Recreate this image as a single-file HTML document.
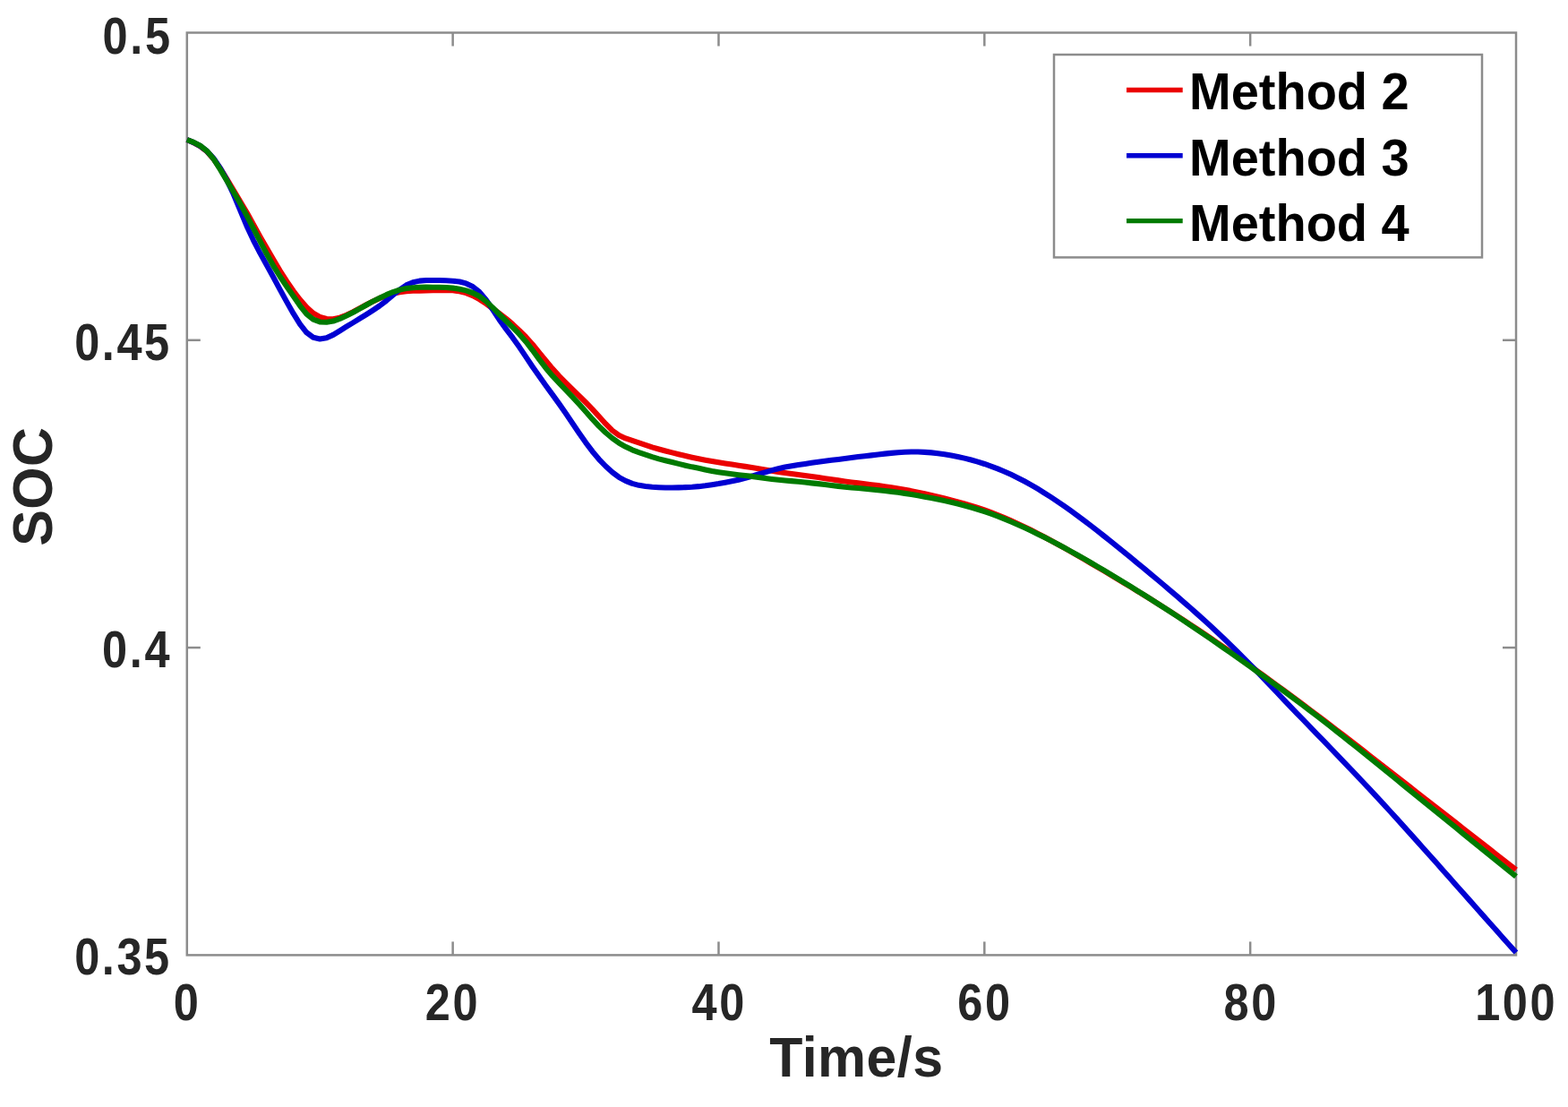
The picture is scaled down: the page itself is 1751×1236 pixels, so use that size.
<!DOCTYPE html>
<html><head><meta charset="utf-8"><style>
html,body{margin:0;padding:0;background:#fff;}
svg{display:block;}
text{font-family:"Liberation Sans",Arial,sans-serif;font-weight:bold;fill:#262626;}
text.lg{fill:#000;}
</style></head><body>
<svg width="1751" height="1236" viewBox="0 0 1751 1236">
<rect x="0" y="0" width="1751" height="1236" fill="#fff"/>
<g stroke="#8c8c8c" stroke-width="2.5" fill="none">
<rect x="208.80" y="36.50" width="1484.20" height="1029.90"/>
<line x1="505.64" y1="1066.40" x2="505.64" y2="1051.40"/><line x1="505.64" y1="36.50" x2="505.64" y2="51.50"/><line x1="802.48" y1="1066.40" x2="802.48" y2="1051.40"/><line x1="802.48" y1="36.50" x2="802.48" y2="51.50"/><line x1="1099.32" y1="1066.40" x2="1099.32" y2="1051.40"/><line x1="1099.32" y1="36.50" x2="1099.32" y2="51.50"/><line x1="1396.16" y1="1066.40" x2="1396.16" y2="1051.40"/><line x1="1396.16" y1="36.50" x2="1396.16" y2="51.50"/><line x1="208.80" y1="379.80" x2="223.80" y2="379.80"/><line x1="1693.00" y1="379.80" x2="1678.00" y2="379.80"/><line x1="208.80" y1="723.10" x2="223.80" y2="723.10"/><line x1="1693.00" y1="723.10" x2="1678.00" y2="723.10"/>
</g>
<g fill="none" stroke-width="6.1" stroke-linejoin="round" stroke-linecap="butt">
<path d="M208.80,156.00 L216.22,159.22 L223.64,163.28 L231.06,169.15 L238.48,177.40 L245.91,187.96 L253.33,199.91 L260.75,212.29 L268.17,224.71 L275.59,237.34 L283.01,250.80 L290.43,264.12 L297.85,277.05 L305.27,289.84 L312.69,302.40 L320.12,313.89 L327.54,324.79 L334.96,334.58 L342.38,343.08 L349.80,349.76 L357.22,353.90 L364.64,356.03 L372.06,356.18 L379.48,354.61 L386.90,351.74 L394.33,348.19 L401.75,344.28 L409.17,340.27 L416.59,336.40 L424.01,332.96 L431.43,330.06 L438.85,327.77 L446.27,326.15 L453.69,325.22 L461.11,324.78 L468.54,324.58 L475.96,324.41 L483.38,324.21 L490.80,324.09 L498.22,324.02 L505.64,324.32 L513.06,325.30 L520.48,327.16 L527.90,330.07 L535.32,334.12 L542.75,339.02 L550.17,344.42 L557.59,349.96 L565.01,355.66 L572.43,361.94 L579.85,368.87 L587.27,376.28 L594.69,384.50 L602.11,393.58 L609.53,402.76 L616.96,411.64 L624.38,419.80 L631.80,427.43 L639.22,434.75 L646.64,441.97 L654.06,449.28 L661.48,456.90 L668.90,465.03 L676.32,473.19 L683.74,480.63 L691.16,486.02 L698.59,489.41 L706.01,491.93 L713.43,494.31 L720.85,496.82 L728.27,499.38 L735.69,501.52 L743.11,503.49 L750.53,505.39 L757.95,507.24 L765.38,509.04 L772.80,510.76 L780.22,512.35 L787.64,513.81 L795.06,515.11 L802.48,516.29 L809.90,517.42 L817.32,518.54 L824.74,519.69 L832.16,520.87 L839.59,522.08 L847.01,523.31 L854.43,524.54 L861.85,525.73 L869.27,526.86 L876.69,527.94 L884.11,528.98 L891.53,530.01 L898.95,531.04 L906.37,532.06 L913.80,533.09 L921.22,534.17 L928.64,535.28 L936.06,536.38 L943.48,537.44 L950.90,538.43 L958.32,539.36 L965.74,540.27 L973.16,541.20 L980.58,542.15 L988.01,543.16 L995.43,544.25 L1002.85,545.43 L1010.27,546.73 L1017.69,548.14 L1025.11,549.66 L1032.53,551.26 L1039.95,552.95 L1047.37,554.70 L1054.79,556.51 L1062.22,558.40 L1069.64,560.37 L1077.06,562.45 L1084.48,564.64 L1091.90,566.98 L1099.32,569.47 L1106.74,572.15 L1114.16,575.01 L1121.58,578.07 L1129.00,581.29 L1136.42,584.68 L1143.85,588.20 L1151.27,591.86 L1158.69,595.64 L1166.11,599.52 L1173.53,603.51 L1180.95,607.57 L1188.37,611.71 L1195.79,615.90 L1203.21,620.14 L1210.63,624.43 L1218.06,628.74 L1225.48,633.09 L1232.90,637.47 L1240.32,641.88 L1247.74,646.31 L1255.16,650.77 L1262.58,655.26 L1270.00,659.78 L1277.42,664.33 L1284.85,668.92 L1292.27,673.55 L1299.69,678.23 L1307.11,682.95 L1314.53,687.72 L1321.95,692.55 L1329.37,697.43 L1336.79,702.36 L1344.21,707.35 L1351.63,712.39 L1359.06,717.49 L1366.48,722.63 L1373.90,727.81 L1381.32,733.04 L1388.74,738.30 L1396.16,743.60 L1403.58,748.93 L1411.00,754.28 L1418.42,759.67 L1425.84,765.09 L1433.27,770.53 L1440.69,775.99 L1448.11,781.49 L1455.53,787.01 L1462.95,792.57 L1470.37,798.15 L1477.79,803.77 L1485.21,809.42 L1492.63,815.09 L1500.05,820.79 L1507.47,826.52 L1514.90,832.26 L1522.32,838.01 L1529.74,843.79 L1537.16,849.57 L1544.58,855.35 L1552.00,861.14 L1559.42,866.93 L1566.84,872.72 L1574.26,878.51 L1581.68,884.30 L1589.11,890.08 L1596.53,895.86 L1603.95,901.64 L1611.37,907.42 L1618.79,913.20 L1626.21,918.99 L1633.63,924.78 L1641.05,930.57 L1648.47,936.36 L1655.89,942.16 L1663.32,947.97 L1670.74,953.78 L1678.16,959.59 L1685.58,965.41 L1693.00,971.22" stroke="#eb0000"/>
<path d="M208.80,156.00 L216.22,159.12 L223.64,163.03 L231.06,168.70 L238.48,176.84 L245.91,187.71 L253.33,201.08 L260.75,216.78 L268.17,234.47 L275.59,252.43 L283.01,268.33 L290.43,282.60 L297.85,295.98 L305.27,309.54 L312.69,323.39 L320.12,336.85 L327.54,349.95 L334.96,361.76 L342.38,371.26 L349.80,376.81 L357.22,378.51 L364.64,377.27 L372.06,373.89 L379.48,369.29 L386.90,364.71 L394.33,360.25 L401.75,355.71 L409.17,351.06 L416.59,346.31 L424.01,341.36 L431.43,335.73 L438.85,329.53 L446.27,323.47 L453.69,318.41 L461.11,315.19 L468.54,313.62 L475.96,313.06 L483.38,313.00 L490.80,313.07 L498.22,313.26 L505.64,313.68 L513.06,314.55 L520.48,316.39 L527.90,320.00 L535.32,325.99 L542.75,334.73 L550.17,345.54 L557.59,356.93 L565.01,367.14 L572.43,376.90 L579.85,387.35 L587.27,398.39 L594.69,409.51 L602.11,420.09 L609.53,430.43 L616.96,440.63 L624.38,450.90 L631.80,461.55 L639.22,472.49 L646.64,483.48 L654.06,494.08 L661.48,503.92 L668.90,512.78 L676.32,520.49 L683.74,527.30 L691.16,532.80 L698.59,536.95 L706.01,539.91 L713.43,541.83 L720.85,543.01 L728.27,543.76 L735.69,544.21 L743.11,544.50 L750.53,544.53 L757.95,544.39 L765.38,544.13 L772.80,543.73 L780.22,543.16 L787.64,542.30 L795.06,541.25 L802.48,540.06 L809.90,538.68 L817.32,537.28 L824.74,535.72 L832.16,533.88 L839.59,531.77 L847.01,529.52 L854.43,527.30 L861.85,525.19 L869.27,523.22 L876.69,521.57 L884.11,520.24 L891.53,519.04 L898.95,517.90 L906.37,516.82 L913.80,515.79 L921.22,514.80 L928.64,513.84 L936.06,512.95 L943.48,512.07 L950.90,511.08 L958.32,510.09 L965.74,509.20 L973.16,508.35 L980.58,507.49 L988.01,506.64 L995.43,505.88 L1002.85,505.22 L1010.27,504.75 L1017.69,504.52 L1025.11,504.55 L1032.53,504.84 L1039.95,505.38 L1047.37,506.17 L1054.79,507.20 L1062.22,508.45 L1069.64,509.92 L1077.06,511.61 L1084.48,513.51 L1091.90,515.63 L1099.32,517.97 L1106.74,520.56 L1114.16,523.39 L1121.58,526.48 L1129.00,529.82 L1136.42,533.43 L1143.85,537.29 L1151.27,541.40 L1158.69,545.74 L1166.11,550.28 L1173.53,555.02 L1180.95,559.95 L1188.37,565.05 L1195.79,570.30 L1203.21,575.70 L1210.63,581.23 L1218.06,586.88 L1225.48,592.64 L1232.90,598.48 L1240.32,604.39 L1247.74,610.36 L1255.16,616.37 L1262.58,622.43 L1270.00,628.52 L1277.42,634.65 L1284.85,640.82 L1292.27,647.02 L1299.69,653.27 L1307.11,659.56 L1314.53,665.91 L1321.95,672.32 L1329.37,678.81 L1336.79,685.38 L1344.21,692.05 L1351.63,698.83 L1359.06,705.73 L1366.48,712.76 L1373.90,719.92 L1381.32,727.20 L1388.74,734.59 L1396.16,742.10 L1403.58,749.72 L1411.00,757.42 L1418.42,765.19 L1425.84,772.98 L1433.27,780.77 L1440.69,788.54 L1448.11,796.28 L1455.53,803.98 L1462.95,811.66 L1470.37,819.33 L1477.79,826.99 L1485.21,834.67 L1492.63,842.36 L1500.05,850.08 L1507.47,857.85 L1514.90,865.65 L1522.32,873.50 L1529.74,881.41 L1537.16,889.38 L1544.58,897.41 L1552.00,905.50 L1559.42,913.66 L1566.84,921.86 L1574.26,930.09 L1581.68,938.36 L1589.11,946.66 L1596.53,954.98 L1603.95,963.32 L1611.37,971.68 L1618.79,980.04 L1626.21,988.40 L1633.63,996.77 L1641.05,1005.14 L1648.47,1013.50 L1655.89,1021.86 L1663.32,1030.22 L1670.74,1038.57 L1678.16,1046.91 L1685.58,1055.25 L1693.00,1063.59" stroke="#0000d2"/>
<path d="M208.80,156.00 L216.22,158.91 L223.64,162.71 L231.06,168.58 L238.48,177.37 L245.91,189.13 L253.33,201.71 L260.75,214.19 L268.17,227.09 L275.59,240.71 L283.01,255.07 L290.43,269.29 L297.85,283.57 L305.27,296.80 L312.69,308.74 L320.12,319.80 L327.54,330.57 L334.96,341.32 L342.38,350.69 L349.80,356.72 L357.22,359.45 L364.64,359.76 L372.06,358.51 L379.48,355.95 L386.90,352.54 L394.33,348.75 L401.75,344.63 L409.17,340.47 L416.59,336.40 L424.01,332.66 L431.43,329.18 L438.85,326.05 L446.27,323.64 L453.69,322.06 L461.11,321.21 L468.54,320.80 L475.96,320.67 L483.38,320.68 L490.80,320.78 L498.22,321.05 L505.64,321.61 L513.06,322.67 L520.48,324.40 L527.90,327.00 L535.32,330.79 L542.75,336.35 L550.17,343.38 L557.59,351.00 L565.01,358.19 L572.43,365.34 L579.85,372.93 L587.27,381.40 L594.69,391.03 L602.11,401.13 L609.53,410.95 L616.96,419.68 L624.38,427.66 L631.80,435.34 L639.22,443.16 L646.64,451.13 L654.06,459.43 L661.48,467.95 L668.90,475.85 L676.32,482.97 L683.74,489.30 L691.16,494.53 L698.59,498.78 L706.01,502.34 L713.43,505.14 L720.85,507.74 L728.27,510.19 L735.69,512.39 L743.11,514.31 L750.53,516.09 L757.95,517.87 L765.38,519.67 L772.80,521.35 L780.22,522.78 L787.64,524.40 L795.06,525.92 L802.48,527.15 L809.90,528.22 L817.32,529.24 L824.74,530.18 L832.16,531.00 L839.59,531.90 L847.01,533.00 L854.43,534.03 L861.85,534.92 L869.27,535.73 L876.69,536.46 L884.11,537.13 L891.53,537.83 L898.95,538.58 L906.37,539.35 L913.80,540.12 L921.22,540.96 L928.64,541.91 L936.06,542.87 L943.48,543.73 L950.90,544.45 L958.32,545.06 L965.74,545.72 L973.16,546.43 L980.58,547.19 L988.01,548.00 L995.43,548.86 L1002.85,549.80 L1010.27,550.86 L1017.69,552.03 L1025.11,553.30 L1032.53,554.64 L1039.95,556.05 L1047.37,557.55 L1054.79,559.13 L1062.22,560.81 L1069.64,562.59 L1077.06,564.51 L1084.48,566.56 L1091.90,568.76 L1099.32,571.13 L1106.74,573.67 L1114.16,576.41 L1121.58,579.35 L1129.00,582.46 L1136.42,585.70 L1143.85,589.07 L1151.27,592.55 L1158.69,596.15 L1166.11,599.85 L1173.53,603.66 L1180.95,607.56 L1188.37,611.54 L1195.79,615.61 L1203.21,619.76 L1210.63,623.97 L1218.06,628.24 L1225.48,632.58 L1232.90,636.96 L1240.32,641.39 L1247.74,645.87 L1255.16,650.39 L1262.58,654.95 L1270.00,659.55 L1277.42,664.19 L1284.85,668.87 L1292.27,673.59 L1299.69,678.36 L1307.11,683.18 L1314.53,688.05 L1321.95,692.96 L1329.37,697.93 L1336.79,702.94 L1344.21,708.00 L1351.63,713.10 L1359.06,718.23 L1366.48,723.40 L1373.90,728.60 L1381.32,733.82 L1388.74,739.08 L1396.16,744.36 L1403.58,749.67 L1411.00,755.01 L1418.42,760.39 L1425.84,765.80 L1433.27,771.25 L1440.69,776.73 L1448.11,782.26 L1455.53,787.84 L1462.95,793.46 L1470.37,799.14 L1477.79,804.88 L1485.21,810.66 L1492.63,816.50 L1500.05,822.38 L1507.47,828.29 L1514.90,834.24 L1522.32,840.21 L1529.74,846.20 L1537.16,852.20 L1544.58,858.21 L1552.00,864.23 L1559.42,870.25 L1566.84,876.27 L1574.26,882.29 L1581.68,888.32 L1589.11,894.34 L1596.53,900.37 L1603.95,906.40 L1611.37,912.43 L1618.79,918.46 L1626.21,924.49 L1633.63,930.52 L1641.05,936.55 L1648.47,942.58 L1655.89,948.60 L1663.32,954.61 L1670.74,960.61 L1678.16,966.61 L1685.58,972.60 L1693.00,978.59" stroke="#007a00"/>
</g>
<g font-size="58">
<text transform="translate(193.85,1138.60) scale(0.87,1)" style="letter-spacing:3px">0</text><text transform="translate(474.85,1138.60) scale(0.87,1)" style="letter-spacing:3px">20</text><text transform="translate(772.60,1138.60) scale(0.87,1)" style="letter-spacing:3px">40</text><text transform="translate(1069.30,1138.60) scale(0.87,1)" style="letter-spacing:3px">60</text><text transform="translate(1366.60,1138.60) scale(0.87,1)" style="letter-spacing:3px">80</text><text transform="translate(1647.15,1138.60) scale(0.87,1)" style="letter-spacing:3px">100</text>
<text transform="translate(114.60,59.70) scale(0.87,1)" style="letter-spacing:3px">0.5</text><text transform="translate(83.15,401.85) scale(0.87,1)" style="letter-spacing:3px">0.45</text><text transform="translate(114.10,745.00) scale(0.87,1)" style="letter-spacing:3px">0.4</text><text transform="translate(83.15,1088.05) scale(0.87,1)" style="letter-spacing:3px">0.35</text>
</g>
<text transform="translate(956.35,1201.8) scale(0.965,1)" font-size="63" text-anchor="middle" style="letter-spacing:0.5px">Time/s</text>
<text transform="translate(58.4,543.15) rotate(-90) scale(0.965,1)" font-size="63" text-anchor="middle" style="letter-spacing:0.5px">SOC</text>
<g>
<rect x="1177" y="61" width="478" height="226.4" fill="#fff" stroke="#8c8c8c" stroke-width="2.5"/>
<line x1="1258" y1="100.5" x2="1320.7" y2="100.5" stroke="#eb0000" stroke-width="5.4"/>
<line x1="1258" y1="173.8" x2="1320.7" y2="173.8" stroke="#0000d2" stroke-width="5.4"/>
<line x1="1258" y1="246.6" x2="1320.7" y2="246.6" stroke="#007a00" stroke-width="5.4"/>
<g font-size="56">
<text class="lg" transform="translate(1328,122.4) scale(1,1.04)">Method 2</text>
<text class="lg" transform="translate(1328,195.6) scale(1,1.04)">Method 3</text>
<text class="lg" transform="translate(1328,268.6) scale(1,1.04)">Method 4</text>
</g>
</g>
</svg>
</body></html>
